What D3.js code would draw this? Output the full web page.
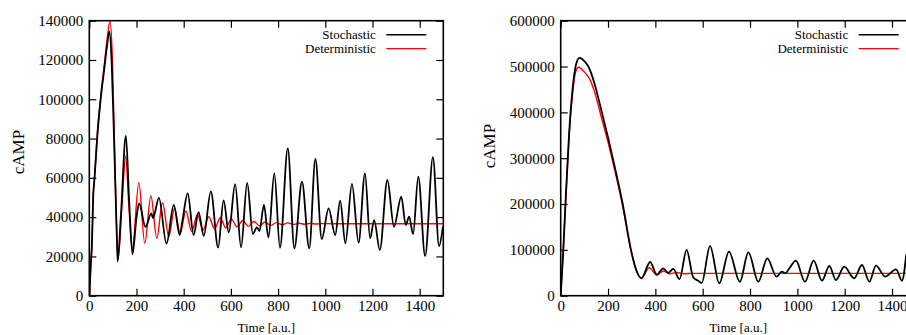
<!DOCTYPE html>
<html lang="en">
  <head>
    <title>cAMP stochastic vs deterministic</title>
    <meta charset="utf-8">
    <script src="https://d3js.org/d3.v7.min.js"></script>
    <style>
      body { margin: 0; background: #fff; }
      svg { display: block; font-family: "Liberation Serif", "DejaVu Serif", serif; }
      .axis path { display: none; }
      .axis line { stroke: #000; stroke-width: 1.2; }
      .ylabel { font-size: 17px; }
      .xlabel { font-size: 13px; }
      .legend { font-size: 13px; }
    </style>
  </head>
  <body>
    <script>

    // left panel - [time, cAMP]
    var leftStoch = [[0,0],[6,15000],[11,26000],[17,52000],[21,58000],[35,83000],[49,101000],[63,115000],[75,127000],[85,134500],
      [95,118000],[106,75000],[116,32600],[120,17500],[134,41000],[155,81500],[169,47800],[183,21000],[200,39900],[211,47000],
      [238,35000],[263,41900],[270,39500],[295,49800],[327,26500],[358,46200],[383,30900],[394,37700],[417,52100],[442,30900],
      [463,42500],[485,30500],[515,53100],[546,24500],[569,48500],[591,32200],[618,56800],[643,24600],[669,57400],[693,31500],
      [710,34800],[721,32900],[740,46200],[759,29600],[784,62300],[808,24400],[841,75000],[869,24100],[901,58000],[932,24100],
      [958,69600],[985,28800],[1014,44500],[1042,30900],[1063,48400],[1085,26700],[1113,56900],[1141,27000],[1168,62300],
      [1190,29200],[1207,38500],[1231,23300],[1263,58900],[1291,35100],[1322,50400],[1341,36000],[1355,40200],[1372,31400],
      [1394,60600],[1423,20200],[1456,70500],[1482,25300],[1498,35100]];

    var leftDet = [[0,0],[6,15000],[11,26000],[17,52000],[21,58000],[35,84000],[49,102000],[63,117000],[75,130000],[88,140000],
      [98,120000],[110,60000],[122,18500],[138,45000],[154,71000],[168,45000],[182,24000],[210,57500],[235,26700],[261,50900],
      [286,29200],[310,47300],[337,30000],[361,44500],[385,31800],[409,43100],[434,32600],[458,41400],[482,33400],[506,40200],
      [531,34000],[555,39700],[578,34500],[602,39000],[626,35000],[650,38300],[674,35300],[697,37800],[721,35600],[745,37500],
      [769,35800],[793,37200],[817,36100],[841,37100],[865,36300],[889,36900],[913,36400],[937,36800],[961,36500],[985,36700],
      [1100,36600],[1500,36600]];

    // right panel
    var rightStoch = [[0,0],[10,90000],[20,200000],[36,358000],[50,450000],[65,505000],[79,519000],[100,512000],[117,500000],
      [140,468000],[174,400000],[200,345000],[220,300000],[262,200000],[297,100000],[320,55000],[341,38000],[378,73500],
      [406,46000],[433,59800],[454,50000],[476,58500],[502,36000],[532,99700],[560,40000],[580,33000],[596,28000],[631,108400],
      [670,27000],[711,96000],[757,30500],[793,94700],[835,30500],[873,81600],[912,41500],[934,52400],[950,49000],[966,59800],
      [994,76400],[1032,30500],[1069,76400],[1104,32700],[1135,64800],[1163,34300],[1198,63300],[1240,38000],[1273,67000],
      [1304,30500],[1332,65500],[1371,41500],[1417,57600],[1442,32700],[1460,90000]];

    var rightDet = [[0,0],[10,90000],[20,195000],[36,350000],[50,440000],[63,488000],[76,498500],[100,488000],[121,474000],
      [140,450000],[174,385000],[200,335000],[220,292000],[262,195000],[297,98000],[320,54000],[341,38000],[374,61000],
      [406,45000],[434,54000],[460,48000],[490,50500],[520,48000],[560,48700],[1500,48700]];

    var xTicks = [0, 200, 400, 600, 800, 1000, 1200, 1400];
    var leftYTicks = [0, 20000, 40000, 60000, 80000, 100000, 120000, 140000];
    var rightYTicks = [0, 100000, 200000, 300000, 400000, 500000, 600000];
    var seriesNames = ["Stochastic", "Deterministic"];
    var seriesColors = ["#000000", "#ff0000"];

    var W = 906, H = 335;
    var plotTop = 20.7, plotBottom = 295.7;

    var svg = d3.select("body").append("svg")
                .attr("width", W)
                .attr("height", H);

    // d3 axes put sans-serif 10px on the group, undo that
    function serifTicks(g) {
      g.attr("font-family", null).attr("font-size", null);
      g.selectAll("text")
       .style("font-family", "'Liberation Serif', serif")
       .style("font-size", "15px")
       .attr("fill", "#000");
    }

    function panel(id, left, right, ymax, yTicks, stoch, det, labelX, labelY) {
      var x = d3.scaleLinear().domain([0, 1500]).range([left, right]);
      var y = d3.scaleLinear().domain([0, ymax]).range([plotBottom, plotTop]);

      svg.append("clipPath").attr("id", id)
         .append("rect").attr("x", left).attr("y", plotTop)
         .attr("width", right - left).attr("height", plotBottom - plotTop);

      var line = d3.line()
                   .x(function(d) { return x(d[0]); })
                   .y(function(d) { return y(d[1]); })
                   .curve(d3.curveMonotoneX);

      // axes (ticks point inward, mirrored on all sides)
      svg.append("g").attr("class", "axis")
         .attr("transform", "translate(0," + plotBottom + ")")
         .call(d3.axisBottom(x).tickValues(xTicks).tickSizeInner(-7).tickSizeOuter(0).tickPadding(5).tickFormat(d3.format("d")))
         .call(serifTicks);
      svg.append("g").attr("class", "axis")
         .attr("transform", "translate(0," + plotTop + ")")
         .call(d3.axisTop(x).tickValues(xTicks).tickSizeInner(-7).tickSizeOuter(0).tickFormat(""));
      svg.append("g").attr("class", "axis")
         .attr("transform", "translate(" + left + ",0)")
         .call(d3.axisLeft(y).tickValues(yTicks).tickSizeInner(-7).tickSizeOuter(0).tickPadding(6).tickFormat(d3.format("d")))
         .call(serifTicks);
      svg.append("g").attr("class", "axis")
         .attr("transform", "translate(" + right + ",0)")
         .call(d3.axisRight(y).tickValues(yTicks).tickSizeInner(-7).tickSizeOuter(0).tickFormat(""));

      var g = svg.append("g").attr("clip-path", "url(#" + id + ")");
      g.append("path").datum(det)
       .attr("fill", "none").attr("stroke", seriesColors[1]).attr("stroke-width", 1.4)
       .attr("d", line);
      g.append("path").datum(stoch)
       .attr("fill", "none").attr("stroke", seriesColors[0]).attr("stroke-width", 1.8)
       .attr("d", line);

      svg.append("rect")
         .attr("x", left).attr("y", plotTop)
         .attr("width", right - left).attr("height", plotBottom - plotTop)
         .attr("fill", "none").attr("stroke", "#000").attr("stroke-width", 1.6);

      // labels
      svg.append("text").attr("class", "ylabel")
         .attr("transform", "translate(" + labelX + "," + labelY + ") rotate(-90)")
         .attr("text-anchor", "middle")
         .text("cAMP");
      svg.append("text").attr("class", "xlabel")
         .attr("x", (left + right) / 2).attr("y", 332)
         .attr("text-anchor", "middle")
         .text("Time [a.u.]");

      // legend
      seriesNames.forEach(function(name, i) {
        var ly = 34.7 + i * 14;
        svg.append("text").attr("class", "legend")
           .attr("x", right - 67.5).attr("y", ly + 4.5)
           .attr("text-anchor", "end")
           .text(name);
        svg.append("line")
           .attr("x1", right - 57).attr("x2", right - 17)
           .attr("y1", ly).attr("y2", ly)
           .attr("stroke", seriesColors[i]).attr("stroke-width", i == 0 ? 1.6 : 1.2);
      });
    }

    panel("clipL", 89.3, 443.3, 140000, leftYTicks, leftStoch, leftDet, 24, 152);
    panel("clipR", 560.7, 915.7, 600000, rightYTicks, rightStoch, rightDet, 495, 146);

    </script>
  </body>
</html>
